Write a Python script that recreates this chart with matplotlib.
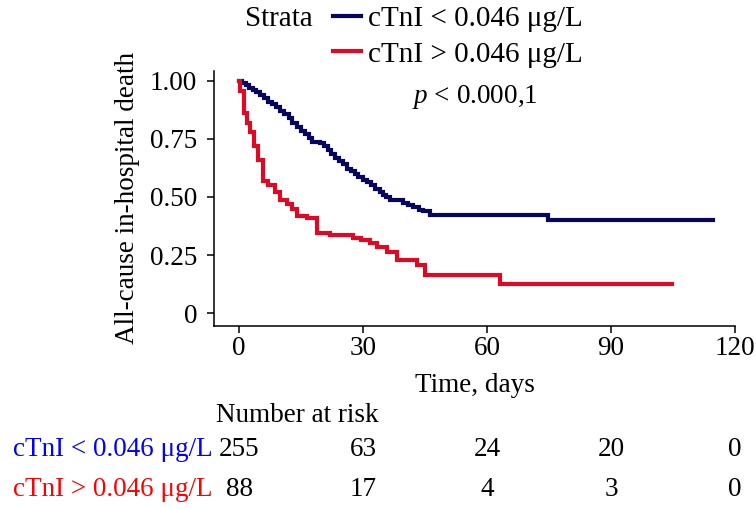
import matplotlib
matplotlib.use("Agg")
import matplotlib.pyplot as plt

# ---------------- data ----------------
strata_labels = ["cTnI < 0.046 \u03bcg/L", "cTnI > 0.046 \u03bcg/L"]

low_t = [0, 0.8, 1.6, 2.5, 3.3, 4.2, 5.0, 6.0, 7.0, 8.0, 9.0, 10.0, 11.0, 12.0,
         12.8, 14.0, 15.0, 16.0, 17.0, 17.7, 19.5, 20.5, 21.5, 22.3, 23.2, 24.2,
         25.2, 26.1, 27.0, 28.0, 28.8, 30.0, 31.0, 32.0, 33.0, 34.0, 34.8, 35.6,
         36.5, 39.7, 41.0, 42.1, 43.5, 44.5, 46.2, 74.8, 114.7]
low_s = [1.0, 0.99, 0.98, 0.97, 0.96, 0.95, 0.94, 0.925, 0.91, 0.90, 0.885, 0.87,
         0.855, 0.84, 0.82, 0.80, 0.785, 0.77, 0.755, 0.736, 0.73, 0.72, 0.70,
         0.685, 0.668, 0.655, 0.64, 0.62, 0.61, 0.60, 0.587, 0.575, 0.565, 0.55,
         0.535, 0.52, 0.51, 0.50, 0.487, 0.474, 0.465, 0.457, 0.445, 0.44, 0.423,
         0.40, 0.40]

high_t = [0, 0.3, 1.3, 2.0, 2.7, 3.6, 4.6, 5.8, 7.0, 8.7, 9.9, 11.6, 12.8, 14.0,
          16.5, 18.9, 22.0, 27.6, 29.5, 31.7, 33.5, 35.8, 38.2, 43.0, 45.0, 63.2,
          104.8]
high_s = [1.0, 0.955, 0.86, 0.82, 0.78, 0.72, 0.66, 0.57, 0.55, 0.52, 0.487, 0.47,
          0.45, 0.42, 0.41, 0.345, 0.335, 0.325, 0.315, 0.30, 0.285, 0.265, 0.23,
          0.208, 0.165, 0.126, 0.126]

x_ticks = [0, 30, 60, 90, 120]
y_ticks = [0, 0.25, 0.50, 0.75, 1.00]
y_ticklabels = ["0", "0.25", "0.50", "0.75", "1.00"]

risk_times = [0, 30, 60, 90, 120]
risk_low = [255, 63, 24, 20, 0]
risk_high = [88, 17, 4, 3, 0]

p_text = "< 0.000,1"

# ---------------- style ----------------
FONT = "Liberation Serif"
FS = 19.5
FS_LEG = 21
plt.rcParams["font.family"] = [FONT, "DejaVu Serif"]
plt.rcParams["mathtext.fontset"] = "custom"
plt.rcParams["mathtext.it"] = FONT + ":italic"
plt.rcParams["mathtext.rm"] = FONT

navy = "#06065e"
red = "#dc0a24"

W, H = 756, 509
fig = plt.figure(figsize=(W / 100, H / 100), dpi=100)

def px(x0, y0, x1, y1):
    return [x0 / W, 1 - y1 / H, (x1 - x0) / W, (y1 - y0) / H]

ax = fig.add_axes(px(214, 70.7, 735, 326))
ax.set_xlim(-6.05, 120)
ax.set_ylim(-0.055, 1.043)

l1, = ax.step(low_t, low_s, where="post", color=navy, lw=3.0, solid_joinstyle="miter")
l2, = ax.step(high_t, high_s, where="post", color=red, lw=3.0, solid_joinstyle="miter")

for s in ["top", "right"]:
    ax.spines[s].set_visible(False)
for s in ["left", "bottom"]:
    ax.spines[s].set_linewidth(1.1)

ax.set_xticks(x_ticks)
ax.set_xticklabels([str(v) for v in x_ticks])
ax.set_yticks(y_ticks)
ax.set_yticklabels(y_ticklabels)
ax.tick_params(axis="both", labelsize=FS, length=5, width=1.1)
ax.tick_params(axis="y", pad=7)
ax.tick_params(axis="x", pad=2)

ax.set_xlabel("Time, days", fontsize=FS, labelpad=9)
ax.set_ylabel("All-cause in-hospital death", fontsize=FS, labelpad=7)

ax.text(57, 0.93, r"$p$ " + p_text, fontsize=FS, ha="center", va="center")

# legend
fig.text(245 / W, 1 - 19 / H, "Strata", fontsize=FS_LEG, va="center", ha="left")
leg = fig.legend([l1, l2], strata_labels, loc="upper left",
                 bbox_to_anchor=(330 / W, 1 - 3 / H), frameon=False,
                 fontsize=FS_LEG, handlelength=0.95, handletextpad=0.25,
                 labelspacing=0.3, borderaxespad=0, borderpad=0.1)

# risk table (columns share the time scale of the plot)
tab = fig.add_axes(px(214, 400, 735, 509))
tab.set_xlim(-6.05, 120)
tab.set_ylim(1.475, -1.25)
tab.axis("off")
tab.text(-5.5, -0.85, "Number at risk", fontsize=FS, ha="left", va="center")
for row, (vals, lab, col) in enumerate([(risk_low, strata_labels[0], "#0000ff"),
                                         (risk_high, strata_labels[1], "#ff0000")]):
    tab.text(-6.4, row, lab, color=col, fontsize=FS, ha="right", va="center")
    for t, v in zip(risk_times, vals):
        tab.text(t, row, str(v), fontsize=FS, ha="center", va="center", color="black")

fig.savefig("out.png", dpi=100)
